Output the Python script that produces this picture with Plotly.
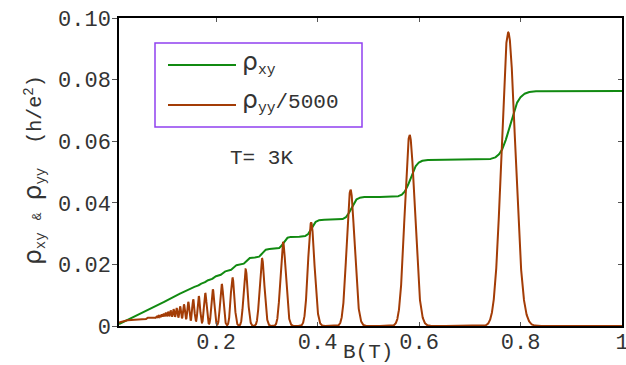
import numpy as np
import plotly.graph_objects as go

# ---------------- data ----------------
# rho_yy/5000 peak positions (T) and peak heights above background (h/e^2)
peak_B = [0.7758, 0.5814, 0.4649, 0.3873, 0.3319, 0.2904, 0.2581, 0.2322, 0.2111, 0.1935,
          0.1786, 0.1658, 0.1548, 0.1451, 0.1366, 0.1290, 0.1222, 0.1161, 0.1105, 0.1055,
          0.1009, 0.0967, 0.0928, 0.0893, 0.0860, 0.0829, 0.0800, 0.0774, 0.0749, 0.0725,
          0.0703, 0.0683, 0.0663, 0.0645, 0.0627]
peak_h = [0.0953, 0.0620, 0.0442, 0.0336, 0.0271, 0.0220, 0.0184, 0.0157, 0.0136, 0.0119,
          0.0106, 0.0095, 0.0084, 0.0074, 0.0064, 0.0056, 0.0049, 0.0044, 0.0039, 0.0034,
          0.0030, 0.0026, 0.0023, 0.0020, 0.0017, 0.0015, 0.0013, 0.0011, 0.0010, 0.0009,
          0.0008, 0.0007, 0.0006, 0.0005, 0.0004]
# low-field smooth background of rho_yy/5000
bg_B = [0.008, 0.020, 0.035, 0.050, 0.065, 0.080, 0.100, 0.120, 0.150, 0.190, 1.0]
bg_val = [0.0011, 0.0017, 0.0021, 0.0023, 0.0020, 0.0015, 0.0013, 0.0010, 0.0003, 0.0, 0.0]
# rho_xy Hall plateaus (h/e^2), from high field downwards
plateau = [0.0763, 0.0540, 0.0419, 0.0345, 0.0290, 0.0250, 0.0222, 0.0198, 0.0178,
           0.0162, 0.0149, 0.0138, 0.0128]

x_tick_vals = [0.2, 0.4, 0.6, 0.8, 1.0]
x_tick_labels = ["0.2", "0.4", "0.6", "0.8", "1"]
y_tick_vals = [0, 0.02, 0.04, 0.06, 0.08, 0.10]
y_tick_labels = ["0", "0.02", "0.04", "0.06", "0.08", "0.10"]

# ---------------- curve construction ----------------
B = np.linspace(0.0085, 1.0, 6000)
u = 1.0 / B
uc = 1.0 / np.array(peak_B)
sig = 0.0225 * (uc / uc[0]) ** 0.9   # Landau-level broadening in 1/B

rho_yy = np.interp(B, bg_B, bg_val)
for c, h, s in zip(uc, peak_h, sig):
    rho_yy = rho_yy + h * np.exp(-0.5 * ((u - c) / s) ** 2)

inv = np.full_like(u, 1.0 / plateau[0])
for k in range(len(plateau) - 1):
    d = 1.0 / plateau[k + 1] - 1.0 / plateau[k]
    inv = inv + d * 0.5 * (1 + np.tanh((u - uc[k]) / (1.3 * sig[k])))
slope = (1.0 / plateau[-1] - 1.0 / plateau[-2]) / (uc[11] - uc[10])
ar = 0.12
z = (u - uc[len(plateau) - 1]) / ar
inv = inv + slope * ar * np.logaddexp(0, z)
rho_xy = 1.0 / inv

GREEN = "#118a11"
BROWN = "#a33c06"
MONO = "Liberation Mono"

fig = go.Figure()
fig.add_trace(go.Scatter(x=B, y=rho_xy, mode="lines", name="ρxy",
                         line=dict(color=GREEN, width=2), showlegend=False))
fig.add_trace(go.Scatter(x=B, y=rho_yy, mode="lines", name="ρyy/5000",
                         line=dict(color=BROWN, width=2), showlegend=False))
fig.add_trace(go.Scatter(x=[None], y=[None], yaxis="y2", showlegend=False, hoverinfo="skip"))

L, R, T, Bm = 119, 4, 18, 39
W, H = 626, 365
pw, ph = W - L - R, H - T - Bm


def px(xp):
    return (xp - L) / pw


def py(yp):
    return (H - Bm - yp) / ph


fig.update_layout(
    width=W, height=H, margin=dict(l=L, r=R, t=T, b=Bm, autoexpand=False),
    plot_bgcolor="white", paper_bgcolor="white",
    xaxis=dict(range=[0.0085, 1.0], tickvals=x_tick_vals, ticktext=x_tick_labels,
               ticks="inside", ticklen=4, tickcolor="#555", showline=True,
               linecolor="black", linewidth=1.5, mirror="ticks", showgrid=False,
               zeroline=False, automargin=False, ticklabelstandoff=-5,
               ticklabeloverflow="allow",
               tickfont=dict(family=MONO, size=22, color="#333")),
    yaxis=dict(range=[0, 0.1], tickvals=y_tick_vals, ticktext=y_tick_labels,
               ticks="outside", ticklen=5, tickcolor="#555", showline=True,
               linecolor="black", linewidth=1.5, mirror=True, showgrid=False,
               zeroline=False, automargin=False, ticklabelstandoff=-3,
               ticklabeloverflow="allow",
               tickfont=dict(family=MONO, size=22, color="#333")),
    yaxis2=dict(range=[0, 0.1], overlaying="y", side="right", tickvals=y_tick_vals,
                ticks="inside", ticklen=4, tickcolor="#555", showticklabels=False,
                showline=False, showgrid=False, zeroline=False, automargin=False),
)

shapes = [
    dict(type="rect", xref="paper", yref="paper", x0=px(155), x1=px(362), y0=py(127), y1=py(43),
         line=dict(color="#9040f0", width=1.5), fillcolor="white"),
    dict(type="line", xref="paper", yref="paper", x0=px(168), x1=px(236), y0=py(65), y1=py(65),
         line=dict(color=GREEN, width=2)),
    dict(type="line", xref="paper", yref="paper", x0=px(168), x1=px(236), y0=py(105), y1=py(105),
         line=dict(color=BROWN, width=2)),
]
fig.update_layout(shapes=shapes)

RHO = '<span style="font-family:DejaVu Sans;font-size:25px">ρ</span>'
ann = [
    dict(x=px(240), y=py(62), xref="paper", yref="paper", xanchor="left", yanchor="middle",
         text=RHO + "<sub>xy</sub>", showarrow=False,
         font=dict(family=MONO, size=21, color="#333")),
    dict(x=px(240), y=py(100), xref="paper", yref="paper", xanchor="left", yanchor="middle",
         text=RHO + "<sub>yy</sub>/5000", showarrow=False,
         font=dict(family=MONO, size=21, color="#333")),
    dict(x=px(261), y=py(158), xref="paper", yref="paper", xanchor="center", yanchor="middle",
         text="T= 3K", showarrow=False, font=dict(family=MONO, size=21, color="#333")),
    dict(x=px(368), y=py(353), xref="paper", yref="paper", xanchor="center", yanchor="middle",
         text="B(T)", showarrow=False, font=dict(family=MONO, size=21, color="#333")),
    dict(x=px(33), y=py(170), xref="paper", yref="paper", xanchor="center", yanchor="middle",
         textangle=-90, showarrow=False,
         text=RHO + "<sub>xy</sub> <span style=\"font-size:13px\">&</span> " + RHO
         + "<sub>yy</sub>  (h/e<sup>2</sup>)",
         font=dict(family=MONO, size=20, color="#333")),
]
fig.update_layout(annotations=ann)

fig.write_html("out.html", post_script="document.body.style.margin='0';",
               config={"displayModeBar": False})
